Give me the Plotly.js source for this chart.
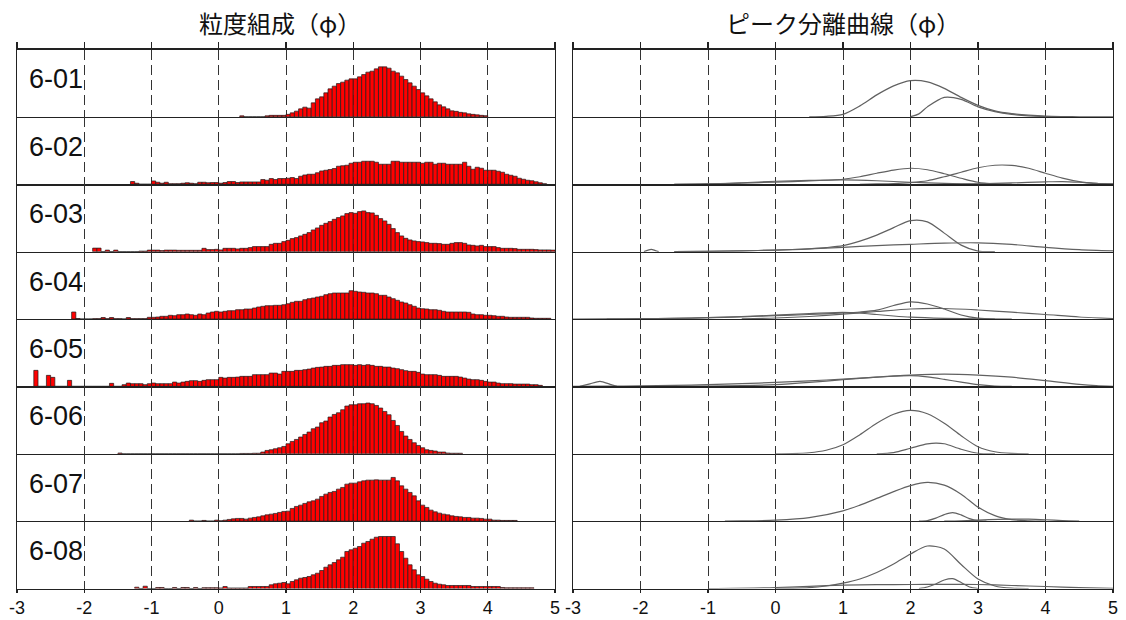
<!DOCTYPE html>
<html>
<head>
<meta charset="utf-8">
<script src="https://cdn.plot.ly/plotly-3.0.1.min.js"></script>
<style>html,body{margin:0;padding:0;background:#fff;}#chart{width:1126px;height:620px;}</style>
</head>
<body>
<div id="chart"></div>
<script>
// ---------------- DATA ----------------
const sampleNames = ["6-01", "6-02", "6-03", "6-04", "6-05", "6-06", "6-07", "6-08"];
const tickValues = [-3, -2, -1, 0, 1, 2, 3, 4, 5];
const tickLabels = ["-3", "-2", "-1", "0", "1", "2", "3", "4", "5"];
const phiMin = -3;
const binWidth = 1 / 16;            // phi per histogram class
const titleLeft = "粒度組成（φ）";
const titleRight = "ピーク分離曲線（φ）";

// Histogram (% per class), first class index and values
const start601 = 53;
const hist601 = [0.1,0,0,0,0,0,0.1,0.15,0.15,0.15,0.15,0.25,0.4,0.57,0.8,0.97,0.87,1.4,1.8,2.0,2.4,2.8,3.07,3.33,3.47,3.67,3.8,3.8,4.0,4.23,4.47,4.57,4.8,5.0,5.0,4.87,4.57,4.4,4.07,3.73,3.4,3.07,2.73,2.4,2.1,1.8,1.5,1.2,1.0,0.8,0.6,0.55,0.45,0.4,0.3,0.25,0.2,0.15,0.12];
const start602 = 27;
const hist602 = [0.27,0.1,0,0,0,0.33,0.2,0.1,0.2,0.05,0.05,0.05,0.1,0.15,0.1,0.05,0.2,0.2,0.15,0.17,0.17,0.1,0.17,0.27,0.27,0.17,0.23,0.23,0.23,0.23,0.23,0.47,0.4,0.57,0.47,0.57,0.57,0.6,0.67,0.57,0.8,0.93,1.0,1.0,1.15,1.33,1.4,1.47,1.57,1.8,1.85,1.9,2.1,2.2,2.2,2.3,2.3,2.3,2.2,2.0,2.0,2.0,2.3,2.3,2.2,2.2,2.2,2.2,2.2,2.1,2.2,2.2,2.0,2.1,2.1,2.0,2.0,2.0,2.0,2.2,1.8,1.5,1.7,1.6,1.4,1.4,1.4,1.3,1.2,1.0,0.9,0.8,0.6,0.5,0.4,0.35,0.25,0.15,0.05];
const start603 = 18;
const hist603 = [0.35,0.35,0,0.15,0,0.15,0,0,0,0,0,0.05,0.05,0.15,0.15,0.15,0.1,0.15,0.15,0.15,0.13,0.13,0.13,0.13,0.13,0.13,0.33,0.2,0.2,0.23,0.17,0.33,0.33,0.33,0.27,0.33,0.33,0.4,0.5,0.5,0.5,0.5,0.73,0.83,0.83,1.0,1.13,1.3,1.4,1.57,1.73,1.9,2.17,2.37,2.63,2.83,3.0,3.23,3.4,3.57,3.8,3.9,3.83,4.0,4.07,3.9,3.87,3.63,3.3,3.07,2.73,2.3,1.9,1.57,1.33,1.17,1.07,1.0,0.97,0.9,0.83,0.83,0.8,0.73,0.73,0.83,0.9,0.9,0.83,0.67,0.63,0.57,0.63,0.5,0.5,0.5,0.4,0.33,0.33,0.33,0.3,0.23,0.23,0.23,0.23,0.2,0.17,0.17,0.17,0.15];
const start604 = 13;
const hist604 = [0.7,0.05,0,0,0,0.03,0.03,0.15,0.03,0.15,0.03,0.03,0,0.15,0.03,0.03,0.03,0.03,0.17,0.17,0.2,0.27,0.27,0.37,0.33,0.43,0.43,0.5,0.43,0.37,0.5,0.43,0.6,0.7,0.77,0.7,0.77,0.83,0.83,0.93,0.93,1.0,1.0,1.1,1.2,1.27,1.33,1.33,1.37,1.37,1.43,1.53,1.67,1.77,1.77,1.93,2.03,2.1,2.2,2.27,2.43,2.53,2.6,2.6,2.6,2.6,2.83,2.77,2.7,2.67,2.6,2.6,2.53,2.37,2.37,2.2,2.03,1.87,1.7,1.6,1.43,1.27,1.1,1.03,1.0,0.93,0.93,0.87,0.77,0.7,0.7,0.7,0.7,0.7,0.67,0.5,0.43,0.43,0.37,0.37,0.33,0.27,0.27,0.2,0.17,0.17,0.17,0.17,0.17,0.1,0.07,0.07,0.07,0.07];
const start605 = 4;
const hist605 = [1.6,0,0,1.1,0.9,0,0,0,0.6,0,0,0,0,0,0,0,0,0,0.3,0,0,0.17,0.33,0.27,0.27,0.27,0.17,0.27,0.33,0.27,0.27,0.27,0.27,0.43,0.33,0.43,0.5,0.57,0.57,0.5,0.6,0.67,0.67,0.67,0.9,0.83,0.9,0.9,0.93,1.0,1.0,1.0,1.17,1.17,1.17,1.17,1.33,1.33,1.23,1.5,1.5,1.5,1.6,1.6,1.67,1.73,1.83,1.9,1.93,2.0,2.0,2.1,2.1,2.17,2.17,2.17,2.1,2.17,2.1,2.17,2.1,2.0,2.0,1.93,1.93,1.83,1.77,1.67,1.57,1.5,1.5,1.4,1.23,1.17,1.17,1.17,1.1,1.0,1.0,1.0,1.0,0.93,0.83,0.73,0.67,0.67,0.6,0.5,0.43,0.43,0.33,0.27,0.27,0.27,0.23,0.23,0.23,0.23,0.17,0.17,0.1];
const start606 = 24;
const hist606 = [0.07,0,0,0,0,0,0,0,0,0,0,0,0,0,0,0,0,0,0,0,0,0,0,0,0,0,0,0,0,0.03,0.03,0.03,0.05,0.05,0.17,0.33,0.4,0.5,0.6,0.73,1.0,1.23,1.43,1.67,1.93,2.17,2.5,2.67,3.1,3.27,3.67,3.93,4.1,4.4,4.77,4.9,4.9,5.0,5.0,5.07,5.0,4.83,4.57,4.23,3.9,3.33,2.83,2.23,1.77,1.43,1.1,0.83,0.6,0.4,0.33,0.27,0.17,0.17,0.07,0.05,0.05,0.05];
const start607 = 41;
const hist607 = [0.1,0,0,0.07,0,0,0.1,0.03,0.1,0.17,0.23,0.27,0.27,0.2,0.3,0.37,0.43,0.53,0.63,0.7,0.77,0.87,0.97,1.0,1.27,1.47,1.6,1.77,1.93,2.03,2.2,2.47,2.7,2.87,2.97,3.2,3.37,3.7,3.8,3.8,3.93,4.03,4.1,4.1,4.13,4.1,4.1,4.1,4.37,4.03,3.53,3.2,2.87,2.53,2.03,1.6,1.37,1.1,0.93,0.8,0.7,0.63,0.53,0.47,0.43,0.37,0.37,0.3,0.3,0.27,0.2,0.2,0.1,0.1,0.07,0.07,0.07,0.07];
const start608 = 28;
const hist608 = [0.13,0,0.23,0,0,0.1,0.1,0,0,0.1,0,0.1,0.1,0,0.1,0,0.08,0.08,0.08,0.08,0.05,0.2,0.05,0.05,0.05,0.05,0.05,0.2,0.2,0.2,0.2,0.2,0.37,0.47,0.53,0.6,0.47,0.7,0.87,1.03,1.1,1.2,1.37,1.53,1.8,2.13,2.37,2.6,2.87,3.13,3.7,3.87,4.03,4.2,4.53,4.7,4.93,5.13,5.2,5.2,5.2,5.2,4.47,3.7,3.03,2.37,1.87,1.37,1.2,0.93,0.7,0.53,0.43,0.37,0.3,0.3,0.3,0.3,0.3,0.3,0.2,0.2,0.2,0.2,0.2,0.2,0.2,0.1,0.07,0.07,0.07,0.07,0.07,0.07,0.07];

// Peak separation curves: phi positions and heights
const c601aPhi = [0.5,0.75,1.0,1.25,1.5,1.75,2.0,2.25,2.5,2.75,3.0,3.25,3.5,3.75,4.0,4.25,4.5,5.0];
const c601aH   = [0,0.05,0.25,1.1,2.2,3.1,3.62,3.5,2.85,1.95,1.15,0.6,0.32,0.17,0.07,0.03,0.01,0];
const c601bPhi = [2.0,2.125,2.25,2.5,2.75,3.0,3.25,3.5,3.75,4.0,4.25];
const c601bH   = [0.02,0.3,1.0,1.95,1.75,1.0,0.52,0.24,0.1,0.03,0];

const c602aPhi = [-1.5,-1,-0.5,0,0.5,1.0,1.25,1.5,1.75,2.0,2.25,2.5,2.75,3.0,3.25,3.5];
const c602aH   = [0,0.03,0.12,0.22,0.33,0.5,0.75,1.1,1.42,1.6,1.45,1.05,0.6,0.2,0.05,0];
const c602bPhi = [-1.5,-1,-0.5,0,0.5,1.0,1.5,2.0,2.5,3.0,3.5];
const c602bH   = [0,0.03,0.15,0.3,0.38,0.43,0.35,0.2,0.08,0.02,0];
const c602cPhi = [1.25,1.5,1.75,2.0,2.25,2.5,2.75,3.0,3.25,3.5,3.75,4.0,4.25,4.5,4.75,5.0];
const c602cH   = [0,0.03,0.07,0.17,0.35,0.75,1.2,1.65,1.9,1.88,1.6,1.1,0.62,0.27,0.1,0.03];
const c602dPhi = [2.5,3.0,3.5,4.0,4.25,4.5,4.75,5.0];
const c602dH   = [0,0.05,0.13,0.24,0.27,0.2,0.08,0.02];

const c603aPhi = [-1.5,-1,-0.5,0,0.25,0.5,0.75,1.0,1.25,1.5,1.75,2.0,2.25,2.5,2.75,3.0,3.25];
const c603aH   = [0,0.02,0.08,0.15,0.2,0.28,0.4,0.6,1.05,1.65,2.4,3.1,2.98,1.85,0.65,0.05,0];
const c603bPhi = [-1.5,-1,-0.5,0,0.5,1.0,1.5,2.0,2.5,3.0,3.5,4.0,4.5,5.0];
const c603bH   = [0,0.02,0.08,0.15,0.28,0.43,0.6,0.73,0.85,0.88,0.72,0.43,0.2,0.07];
const c603cPhi = [-1.95,-1.9,-1.84,-1.78,-1.73];
const c603cH   = [0,0.12,0.23,0.1,0];

const c604aPhi = [-2.5,-2,-1.5,-1,-0.5,0,0.5,1.0,1.25,1.5,1.75,2.0,2.25,2.5,2.75,3.0,3.25];
const c604aH   = [0,0.02,0.06,0.13,0.22,0.33,0.45,0.6,0.7,0.88,1.35,1.72,1.5,1.0,0.4,0.08,0];
const c604bPhi = [-3,-2.5,-2,-1.5,-1,-0.5,0,0.5,1.0,1.25,1.5,1.75,2.0,2.5,3.0,3.5];
const c604bH   = [0,0.01,0.03,0.07,0.13,0.25,0.38,0.55,0.67,0.6,0.45,0.3,0.18,0.06,0.01,0];
const c604cPhi = [-0.5,0,0.5,1.0,1.5,2.0,2.5,3.0,3.5,4.0,4.5,5.0];
const c604cH   = [0.02,0.1,0.25,0.48,0.75,1.0,1.05,0.9,0.68,0.45,0.2,0.05];

const c605aPhi = [-3,-2.5,-2,-1.5,-1,-0.5,0,0.5,1.0,1.5,2.0,2.25,2.5,2.75,3.0,3.25,3.5];
const c605aH   = [0,0.02,0.05,0.1,0.17,0.27,0.4,0.55,0.73,0.92,1.07,0.95,0.7,0.42,0.17,0.03,0];
const c605bPhi = [-1.5,-1,-0.5,0,0.5,1.0,1.5,2.0,2.5,3.0,3.5,4.0,4.5,4.75,5.0];
const c605bH   = [0,0.02,0.07,0.18,0.4,0.67,0.92,1.12,1.23,1.13,0.92,0.57,0.2,0.07,0.01];
const c605cPhi = [-2.9,-2.75,-2.6,-2.45,-2.35];
const c605cH   = [0,0.25,0.5,0.2,0];

const c606aPhi = [0,0.25,0.5,0.75,1.0,1.25,1.5,1.75,2.0,2.25,2.5,2.75,3.0,3.25,3.5,3.75];
const c606aH   = [0,0.02,0.1,0.35,0.9,1.9,3.05,3.95,4.33,4.0,3.05,1.8,0.7,0.2,0.03,0];
const c606bPhi = [1.5,1.75,2.0,2.25,2.375,2.5,2.75,3.0,3.25];
const c606bH   = [0,0.12,0.55,0.98,1.07,1.0,0.45,0.05,0];

const c607aPhi = [-0.75,-0.5,0,0.5,1.0,1.25,1.5,1.75,2.0,2.25,2.5,2.75,3.0,3.25,3.5,3.75,4.0];
const c607aH   = [0,0.02,0.1,0.35,1.03,1.6,2.27,2.95,3.55,3.87,3.6,2.7,1.4,0.55,0.15,0.03,0];
const c607bPhi = [2.125,2.25,2.375,2.5,2.625,2.75,2.875,3.0,3.125];
const c607bH   = [0,0.05,0.3,0.65,0.85,0.62,0.25,0.05,0];
const c607cPhi = [2.5,2.75,3.0,3.5,3.75,4.0,4.25,4.5];
const c607cH   = [0,0.03,0.1,0.2,0.2,0.14,0.05,0];

const c608aPhi = [0,0.25,0.5,0.75,1.0,1.25,1.5,1.75,2.0,2.25,2.5,2.75,3.0,3.25,3.5,3.75];
const c608aH   = [0,0.02,0.08,0.25,0.53,0.95,1.6,2.45,3.45,4.25,3.95,2.4,0.95,0.25,0.03,0];
const c608bPhi = [2.125,2.25,2.375,2.5,2.625,2.75,2.875,3.0];
const c608bH   = [0,0.15,0.45,0.85,0.98,0.6,0.15,0];
const c608cPhi = [-1,0,0.5,1.0,1.5,2.0,2.5,3.0,3.5,4.0,4.5,5.0];
const c608cH   = [0,0.1,0.22,0.33,0.38,0.4,0.42,0.4,0.3,0.2,0.08,0.01];

const histStarts = [start601, start602, start603, start604, start605, start606, start607, start608];
const histValues = [hist601, hist602, hist603, hist604, hist605, hist606, hist607, hist608];
const curveSets = [
  [[c601aPhi, c601aH], [c601bPhi, c601bH]],
  [[c602aPhi, c602aH], [c602bPhi, c602bH], [c602cPhi, c602cH], [c602dPhi, c602dH]],
  [[c603aPhi, c603aH], [c603bPhi, c603bH], [c603cPhi, c603cH]],
  [[c604aPhi, c604aH], [c604bPhi, c604bH], [c604cPhi, c604cH]],
  [[c605aPhi, c605aH], [c605bPhi, c605bH], [c605cPhi, c605cH]],
  [[c606aPhi, c606aH], [c606bPhi, c606bH]],
  [[c607aPhi, c607aH], [c607bPhi, c607bH], [c607cPhi, c607cH]],
  [[c608aPhi, c608aH], [c608bPhi, c608bH], [c608cPhi, c608cH]]
];

// ---------------- LAYOUT ----------------
const W = 1126, H = 620;
const px = v => v / W;
const py = v => 1 - v / H;
const plotTop = 49.5, rowH = 67.375;
const yMax = 6.7375;
const leftDom = [px(17), px(555)];
const rightDom = [px(573), px(1113)];
const lineCol = '#222';
const gridCol = '#333';
const labelFont = {family: 'Liberation Sans, Arial, sans-serif', size: 18, color: '#111'};

const traces = [];
const layout = {
  width: W, height: H,
  margin: {l: 0, r: 0, t: 0, b: 0},
  paper_bgcolor: '#fff', plot_bgcolor: 'rgba(0,0,0,0)',
  showlegend: false, bargap: 0,
  annotations: []
};

function xAxis(dom, yId, isBottom) {
  return {
    domain: dom, anchor: yId, range: [-3, 5], fixedrange: true,
    tickvals: tickValues, ticktext: tickLabels,
    showgrid: true, gridcolor: gridCol, gridwidth: 1, griddash: '10px,5px',
    zeroline: false, showline: true, linecolor: lineCol, linewidth: 1.3,
    ticks: isBottom ? 'outside' : '', ticklen: 3, tickcolor: lineCol, tickwidth: 1.2,
    showticklabels: isBottom, tickfont: labelFont, automargin: false
  };
}
function yAxis(dom, xId) {
  return {
    domain: dom, anchor: xId, range: [0, yMax], fixedrange: true,
    showgrid: false, zeroline: false, showticklabels: false, ticks: '',
    showline: true, mirror: true, linecolor: lineCol, linewidth: 1.3, automargin: false
  };
}

for (let r = 0; r < 8; r++) {
  const top = plotTop + r * rowH, bot = top + rowH;
  const yDom = [py(bot), py(top)];
  const isBottom = r === 7;
  const nL = r + 1, nR = r + 9;
  layout['xaxis' + nL] = xAxis(leftDom, 'y' + nL, isBottom);
  layout['yaxis' + nL] = yAxis(yDom, 'x' + nL);
  layout['xaxis' + nR] = xAxis(rightDom, 'y' + nR, isBottom);
  layout['yaxis' + nR] = yAxis(yDom, 'x' + nR);

  const vals = histValues[r];
  const xs = vals.map((v, i) => phiMin + (histStarts[r] + i + 0.5) * binWidth);
  traces.push({
    type: 'bar', x: xs, y: vals, width: binWidth,
    marker: {color: '#ff0000', line: {color: '#1c1c1c', width: 0.7}},
    xaxis: 'x' + nL, yaxis: 'y' + nL, hoverinfo: 'skip'
  });
  curveSets[r].forEach(c => {
    traces.push({
      type: 'scatter', mode: 'lines', x: c[0], y: c[1],
      line: {color: '#616161', width: 1.2, shape: 'spline', smoothing: 0.8},
      xaxis: 'x' + nR, yaxis: 'y' + nR, hoverinfo: 'skip'
    });
  });
  layout.annotations.push({
    xref: 'paper', yref: 'paper', x: px(27), y: py(top + 30),
    xanchor: 'left', yanchor: 'middle', showarrow: false,
    text: sampleNames[r],
    font: {family: 'Liberation Sans, Arial, sans-serif', size: 27, color: '#111'}
  });
}

// top tick axes (ticks above the first row)
layout.xaxis17 = {domain: leftDom, anchor: 'y1', overlaying: 'x1', side: 'top', range: [-3, 5],
  tickvals: tickValues, showticklabels: false, ticks: 'outside', ticklen: 6, tickcolor: lineCol, tickwidth: 1.2,
  showgrid: false, zeroline: false, showline: true, linecolor: lineCol, linewidth: 1.3, fixedrange: true};
layout.xaxis18 = {domain: rightDom, anchor: 'y9', overlaying: 'x9', side: 'top', range: [-3, 5],
  tickvals: tickValues, showticklabels: false, ticks: 'outside', ticklen: 6, tickcolor: lineCol, tickwidth: 1.2,
  showgrid: false, zeroline: false, showline: true, linecolor: lineCol, linewidth: 1.3, fixedrange: true};
traces.push({type: 'scatter', mode: 'lines', x: [-3], y: [0], xaxis: 'x17', yaxis: 'y1', line: {width: 0}, hoverinfo: 'skip'});
traces.push({type: 'scatter', mode: 'lines', x: [-3], y: [0], xaxis: 'x18', yaxis: 'y9', line: {width: 0}, hoverinfo: 'skip'});

const titleFont = {family: 'Noto Sans CJK JP, sans-serif', size: 24, color: '#111'};
layout.annotations.push({xref: 'paper', yref: 'paper', x: (leftDom[0] + leftDom[1]) / 2 - px(6), y: py(22),
  xanchor: 'center', yanchor: 'middle', showarrow: false, text: titleLeft, font: titleFont});
layout.annotations.push({xref: 'paper', yref: 'paper', x: (rightDom[0] + rightDom[1]) / 2, y: py(22),
  xanchor: 'center', yanchor: 'middle', showarrow: false, text: titleRight, font: titleFont});

Plotly.newPlot('chart', traces, layout, {staticPlot: true, displayModeBar: false});
</script>
</body>
</html>
